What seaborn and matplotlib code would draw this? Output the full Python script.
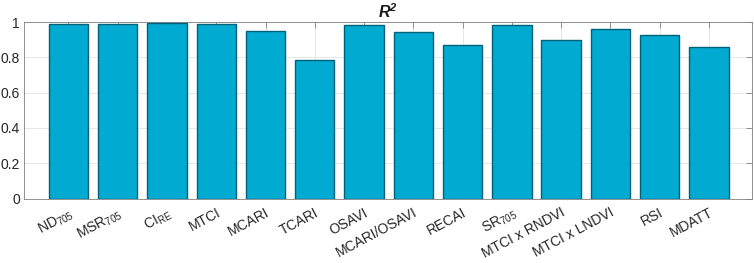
import numpy as np
import pandas as pd
import matplotlib
matplotlib.use('Agg')
import matplotlib.pyplot as plt
import seaborn as sns

# -----------------------

indices = ['ND$_{\\mathrm{705}}$', 'MSR$_{\\mathrm{705}}$', 'CI$_{\\mathrm{RE}}$',
	'MTCI', 'MCARI', 'TCARI', 'OSAVI', 'MCARI/OSAVI', 'RECAI',
	'SR$_{\\mathrm{705}}$', 'MTCI x RNDVI', 'MTCI x LNDVI', 'RSI', 'MDATT']
r2 = [0.987, 0.987, 0.994, 0.987, 0.950, 0.785, 0.983, 0.943, 0.872,
	0.985, 0.898, 0.959, 0.928, 0.861]
yticks = [0, 0.2, 0.4, 0.6, 0.8, 1]
yticklabels = ['0', '0.2', '0.4', '0.6', '0.8', '1']

# -----------------------

sns.set_style('white')
plt.rcParams['font.family'] = ['Liberation Sans', 'DejaVu Sans']
plt.rcParams['mathtext.fontset'] = 'custom'
plt.rcParams['mathtext.rm'] = 'Liberation Sans'
plt.rcParams['mathtext.it'] = 'Liberation Sans:italic'
plt.rcParams['mathtext.bf'] = 'Liberation Sans:italic:bold'

df = pd.DataFrame({'index': indices, 'r2': r2})

fig = plt.figure(figsize=(7.54, 2.63), dpi=100)
ax = fig.add_axes([0.032, 0.245, 0.965, 0.671])

sns.barplot(data=df, x='index', y='r2', color='#00AAD0', saturation=1,
	width=0.8, edgecolor='#00627A', linewidth=1.0, ax=ax, zorder=3)

ax.set_xlim(-0.9, 13.87)
ax.set_ylim(0, 1)
ax.set_yticks(yticks)
ax.set_yticklabels(yticklabels)
ax.set_xticks(range(len(indices)))
ax.set_xticklabels(indices, rotation=28, ha='right', rotation_mode='anchor')
ax.set(xlabel=None, ylabel=None)

ax.grid(True, which='major', axis='both', color='#e3e3e3', lw=0.6, zorder=0)
ax.set_axisbelow(True)
ax.tick_params(direction='in', top=True, right=True, length=4, width=0.6,
	colors='#262626', labelsize=10, pad=3)
ax.tick_params(axis='x', pad=5)
for s in ax.spines.values():
	s.set_color('#808080')
	s.set_linewidth(0.6)
ax.tick_params(color='#808080')

ax.set_title('$\\mathbf{R^{2}}$', fontsize=11.5, pad=3, color='#1a1a1a')

plt.savefig('out.png', dpi=100)
